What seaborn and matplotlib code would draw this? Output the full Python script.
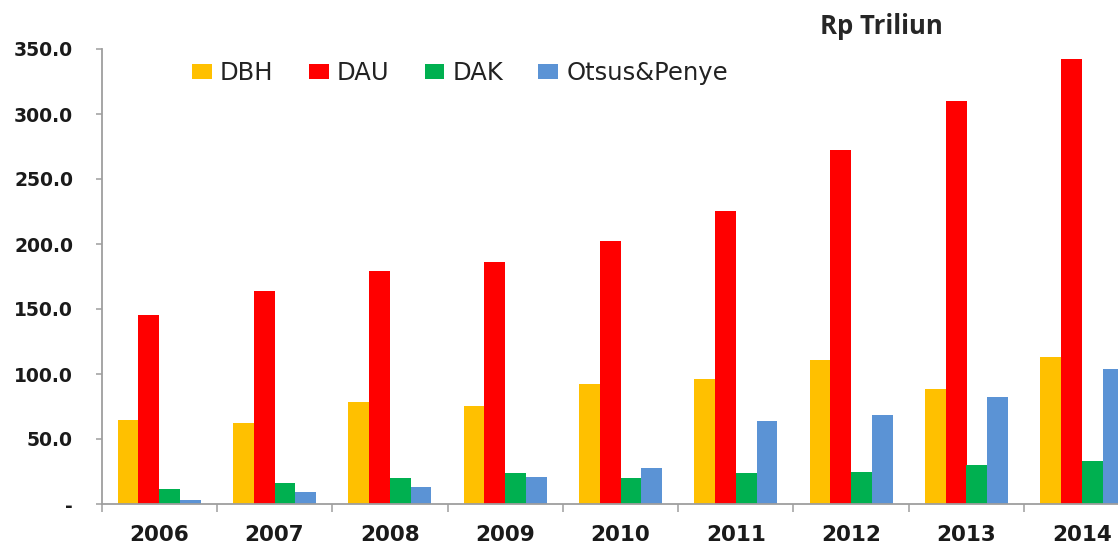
import pandas as pd
import matplotlib
matplotlib.use('Agg')
import matplotlib.pyplot as plt
from matplotlib.ticker import FixedLocator, FuncFormatter
import seaborn as sns

# Values (Rp Triliun)
years = ['2006', '2007', '2008', '2009', '2010', '2011', '2012', '2013', '2014']
dbh = [64.6, 62.5, 78.2, 75.4, 92.3, 96.2, 110.8, 88.2, 113.1]
dau = [145.4, 164.0, 179.0, 185.9, 202.5, 225.1, 272.5, 310.2, 342.3]
dak = [11.5, 16.1, 20.2, 24.1, 20.2, 24.1, 24.9, 30.0, 33.1]
otsus = [3.3, 9.2, 13.3, 21.0, 27.9, 63.6, 68.5, 82.3, 104.1]
series = ['DBH', 'DAU', 'DAK', 'Otsus&Penye']
colors = ['#FFC000', '#FF0000', '#00B050', '#5B93D5']

# Long format for seaborn
df = pd.DataFrame({'Tahun': years, 'DBH': dbh, 'DAU': dau, 'DAK': dak, 'Otsus&Penye': otsus})
df = df.melt(id_vars='Tahun', var_name='Jenis', value_name='Nilai')

sns.set_style('white')
plt.rcParams['font.family'] = ['DejaVu Sans']

W, H = 1118, 545
fig = plt.figure(figsize=(W / 100, H / 100), dpi=100)
# axes run a bit past the right edge, like the cropped original
ax = fig.add_axes([101.5 / W, 41 / H, 1038 / W, 455 / H])

sns.barplot(data=df, x='Tahun', y='Nilai', hue='Jenis', hue_order=series,
            palette=colors, width=0.72, saturation=1, ax=ax, linewidth=0)

ax.set_xlim(-0.5, 8.5)
ax.set_ylim(0, 350)
ax.set_xlabel('')
ax.set_ylabel('')

sns.despine(ax=ax, top=True, right=True)
axis_col = '#9E9E9E'
for side in ['left', 'bottom']:
    ax.spines[side].set_color(axis_col)
    ax.spines[side].set_linewidth(1.3)

# y axis
ax.set_yticks(range(0, 351, 50))
ax.yaxis.set_major_formatter(FuncFormatter(lambda v, p: '-' if v == 0 else f'{v:.1f}'))
ax.tick_params(axis='y', which='major', left=True, direction='out', length=4.5, width=1.1,
               color=axis_col, pad=16, labelsize=13.5, labelcolor='#1a1a1a')
for lab in ax.get_yticklabels():
    lab.set_fontweight('bold')

# x axis: labels in the middle, ticks between the groups
ax.tick_params(axis='x', which='major', bottom=True, length=0, pad=15,
               labelsize=15.5, labelcolor='#1a1a1a')
for lab in ax.get_xticklabels():
    lab.set_fontweight('bold')
ax.xaxis.set_minor_locator(FixedLocator([i - 0.5 for i in range(len(years) + 1)]))
ax.tick_params(axis='x', which='minor', bottom=True, direction='out', length=5.5,
               width=1.1, color=axis_col)

# legend across the top
handles, labels = ax.get_legend_handles_labels()
ax.legend(handles, labels, loc='center left', bbox_to_anchor=(192 / W, 1 - 73 / H),
          bbox_transform=fig.transFigure, ncol=4, frameon=False, fontsize=17.5,
          handlelength=0.82, handleheight=0.62, handletextpad=0.33,
          columnspacing=1.45, borderpad=0, borderaxespad=0, labelcolor='#222222')

fig.text(881 / W, 1 - 27 / H, 'Rp Triliun', ha='center', va='center',
         fontsize=18.5, fontweight='bold', family=['Open Sans', 'DejaVu Sans'])

fig.savefig('out.png', dpi=100)
